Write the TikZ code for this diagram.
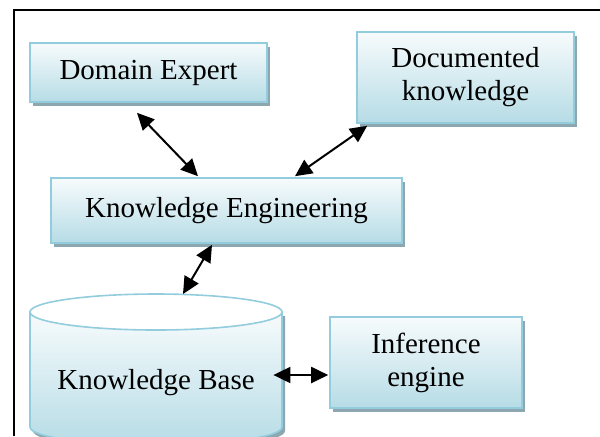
\documentclass[tikz,border=0pt]{standalone}
\usepackage{fontspec}
\setmainfont{Liberation Serif}
\usetikzlibrary{arrows.meta,calc,shadows}
\definecolor{boxline}{HTML}{93CDDD}
\definecolor{boxtop}{HTML}{F7FBFC}
\definecolor{boxbot}{HTML}{B6DCE6}
\definecolor{shadowc}{HTML}{8CA7AF}
\begin{document}
\begin{tikzpicture}[x=0.5pt,y=-0.5pt,
  bluebox/.style={draw=boxline,line width=0.8pt,top color=boxtop,bottom color=boxbot,
    inner sep=0pt,align=center,font=\fontsize{14.5}{16.5}\selectfont,
    drop shadow={shadow xshift=1.5pt,shadow yshift=-2pt,fill=shadowc,opacity=1}},
  link/.style={line width=1pt,{Triangle[length=8.5pt,width=8pt]}-{Triangle[length=8.5pt,width=8pt]}},
  txt/.style={font=\fontsize{14.5}{16.5}\selectfont,inner sep=0pt}]
\useasboundingbox (0,0) rectangle (600,436);
% frame
\draw[line width=1pt] (13.5,436) -- (13.5,9.5) -- (600,9.5);
% boxes
\node[bluebox,minimum width=118.5pt,minimum height=29.5pt] (de) at (148.5,72.5) {Domain Expert};
\node[bluebox,minimum width=108.5pt,minimum height=45.5pt] (dk) at (465.5,77.5) {Documented\\knowledge};
\node[bluebox,minimum width=175.5pt,minimum height=32.5pt] (ke) at (226.5,210.5) {Knowledge Engineering};
\node[bluebox,minimum width=96pt,minimum height=45.5pt] (ie) at (426,362.5) {Inference\\engine};
% cylinder
\fill[shadowc] (33,316) -- (33,431) arc (180:360:63pt and 9pt) -- (285,316) -- cycle;
\shade[top color=boxtop,bottom color=boxbot,draw=boxline,line width=0.8pt]
  (30,312) -- (30,427) arc (180:360:63pt and 9pt) -- (282,312) -- cycle;
\filldraw[fill=white,draw=boxline,line width=0.8pt] (156,312) ellipse [x radius=63pt,y radius=9pt];
\node[draw=none,minimum width=126pt,minimum height=72pt,inner sep=0pt] (kb) at (156,366) {};
\coordinate (kbtop) at (156,294);
\node[txt] (kbtext) at (156,383) {Knowledge Base};
% connectors
\draw[link] ($(de.south)+(-11.5,10)$) -- ($(ke.north)+(-28.5,-1)$);
\draw[link] ($(dk.south west)+(11,2)$) -- ($(ke.north)+(68.5,-1)$);
\draw[link] ($(ke.south)+(-14.5,1)$) -- ($(kbtop)+(27,0)$);
\draw[link] ($(kb.east)+(-9,9)$) -- ($(ie.west)+(-1,12.5)$);
\end{tikzpicture}
\end{document}
